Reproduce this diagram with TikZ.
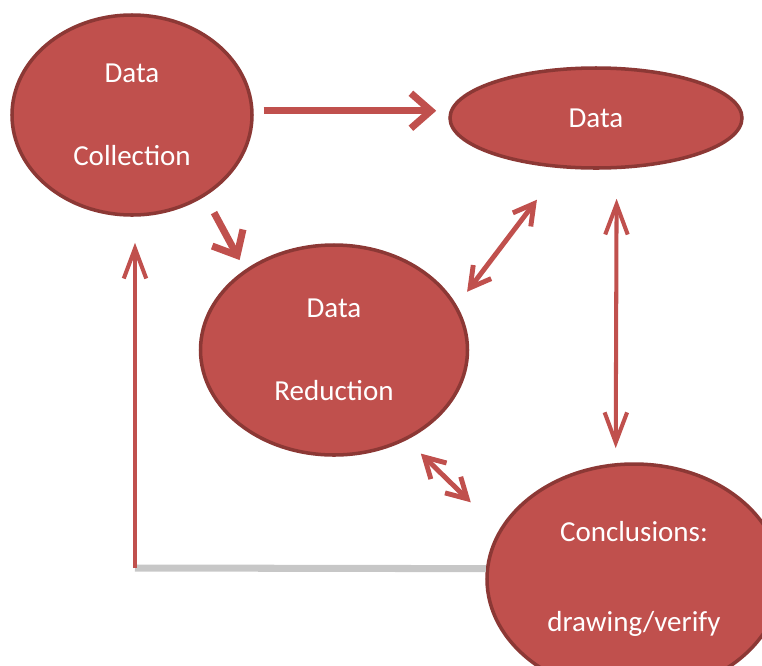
\documentclass[tikz,border=0pt]{standalone}
\usepackage{fontspec}
\setmainfont{Carlito}
\usetikzlibrary{arrows.meta, shapes.geometric}
\definecolor{acc_red}{RGB}{192, 80, 77}
\definecolor{acc_dark}{RGB}{140, 56, 53}

\begin{document}
\begin{tikzpicture}[font=\fontsize{16.5}{19}\selectfont,
      blob/.style={ellipse, draw=acc_dark, line width=2pt, fill=acc_red, text=white,
        align=center, inner sep=0pt},
      arr/.style={draw=acc_red, line width=4pt, -{Straight Barb[length=0.4cm, width=0.7cm]}},
      dbl/.style={draw=acc_red, line width=2.8pt,
        {Straight Barb[length=0.4cm, width=0.45cm]}-{Straight Barb[length=0.4cm, width=0.45cm]}},
      vdbl/.style={draw=acc_red, line width=2.3pt,
        {Straight Barb[length=0.6cm, width=0.45cm]}-{Straight Barb[length=0.6cm, width=0.45cm]}},
      back/.style={draw=black!22, line width=4pt}]
    \useasboundingbox (0,0) rectangle (15.24,-13.3);
    \node[blob, minimum width=4.8cm, minimum height=4cm]     (coll)  at (2.64,-2.3)   {Data\\[28pt] Collection};
    \node[blob, minimum width=5.84cm, minimum height=2cm]    (data)  at (11.92,-2.36) {Data};
    \node[blob, minimum width=5.34cm, minimum height=4.2cm]  (red)   at (6.68,-7.0)   {Data\\[28pt] Reduction};
    \node[blob, minimum width=5.88cm, minimum height=4.6cm]  (concl) at (12.68,-11.58) {Conclusions:\\[32pt] drawing/verify};
    \draw[arr, shorten <=0.2cm, shorten >=0.24cm] (coll.2) -- (coll.2 -| data.west);
    \draw[arr, shorten <=0.37cm, shorten >=0.22cm] (coll.-48.7) -- (red.138.5);
    \draw[dbl, shorten <=0.79cm, shorten >=0.34cm] (data.-125) -- (red.20);
    \draw[vdbl, shorten <=0.59cm, shorten >=0.3cm] (data.-68) -- (concl.99);
    \draw[dbl, shorten <=0.39cm, shorten >=0.79cm] (red.-51) -- (concl.160.3);
    % feedback loop
    \coordinate (loop) at (2.7,-11.36);
    \draw[back] (concl.176.5) -- (loop);
    \draw[vdbl, -{Straight Barb[length=0.6cm, width=0.45cm]}, shorten >=0.52cm] (loop) -- (loop |- coll.south);
  \end{tikzpicture}
\end{document}
